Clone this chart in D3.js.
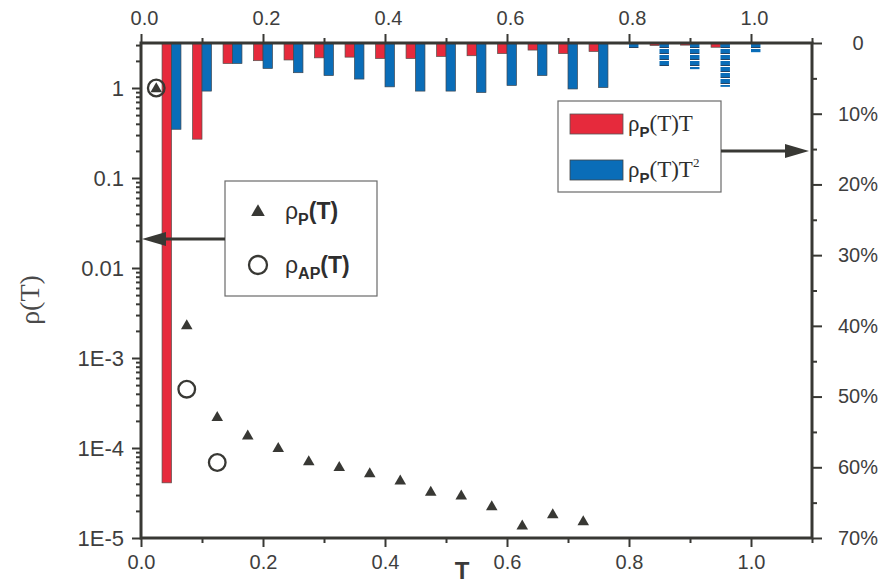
<!DOCTYPE html>
<html>
<head>
<meta charset="utf-8">
<script src="https://cdn.jsdelivr.net/npm/d3@7"></script>
<style>
  html, body { margin: 0; padding: 0; background: #fff; }
  svg { display: block; }
  .tick text { font-family: "Liberation Sans", Arial, sans-serif; font-size: 20px; fill: #3e3e3e; }
  .yleft .tick text { font-size: 22px; }
</style>
</head>
<body>
<svg id="chart" width="890" height="584"></svg>
<script>
// Temperature bins (top axis) with the share of rho_P(T)T and rho_P(T)T^2, in percent
const tBins   = [0.05, 0.10, 0.15, 0.20, 0.25, 0.30, 0.35, 0.40, 0.45, 0.50,
                 0.55, 0.60, 0.65, 0.70, 0.75, 0.80, 0.85, 0.90, 0.95, 1.00];
const redPct  = [62.2, 13.6, 2.9, 2.5, 2.4, 2.1, 2.0, 2.2, 2.2, 1.9,
                 1.8, 1.5, 1.0, 1.5, 1.2, 0.1, 0.35, 0.3, 0.6, 0.0];
const bluePct = [12.2, 6.8, 2.9, 3.6, 4.2, 4.6, 5.1, 6.2, 6.8, 6.8,
                 7.0, 6.0, 4.6, 6.5, 6.3, 0.8, 3.3, 3.7, 6.2, 1.3];

// Probability densities (left log axis)
const tP    = [0.025, 0.075, 0.125, 0.175, 0.225, 0.275, 0.325, 0.375,
               0.425, 0.475, 0.525, 0.575, 0.625, 0.675, 0.725];
const rhoP  = [1, 2.33e-3, 2.23e-4, 1.39e-4, 1.01e-4, 7.2e-5, 6.2e-5, 5.3e-5,
               4.4e-5, 3.3e-5, 3.0e-5, 2.27e-5, 1.39e-5, 1.85e-5, 1.55e-5];
const tAP   = [0.025, 0.075, 0.125];
const rhoAP = [1, 4.5e-4, 6.9e-5];

// Tick values
const xMajor = [0, 0.2, 0.4, 0.6, 0.8, 1.0];
const xMinor = [0.1, 0.3, 0.5, 0.7, 0.9, 1.1];
const yMajor = [1e-5, 1e-4, 1e-3, 1e-2, 1e-1, 1];
const yLabels = ["1E-5", "1E-4", "1E-3", "0.01", "0.1", "1"];
const pctMajor = [0, 10, 20, 30, 40, 50, 60, 70];
const pctMinor = [5, 15, 25, 35, 45, 55, 65];

const INK = "#383834";
const RED = "#e62a3c";
const BLUE = "#0a6db8";

const svg = d3.select("#chart");
const L = 141, R = 812, T = 43, B = 538;

const x = d3.scaleLinear().domain([0, 1.1]).range([L, R]);
const y = d3.scaleLog().domain([1e-5, Math.sqrt(10)]).range([B, T]);
const yPct = d3.scaleLinear().domain([0, 70]).range([T, B]);

// Hatch pattern for the high-temperature bins
const defs = svg.append("defs");
const pat = defs.append("pattern").attr("id", "hatch")
  .attr("patternUnits", "userSpaceOnUse").attr("width", 20).attr("height", 6)
  .attr("y", T);
pat.append("rect").attr("width", 20).attr("height", 6).attr("fill", BLUE);
pat.append("rect").attr("y", 4.2).attr("width", 20).attr("height", 0.8).attr("fill", "#2a3a50");
pat.append("rect").attr("y", 5).attr("width", 20).attr("height", 1).attr("fill", "#fff");

// Bars hanging from the top axis
const bw = x(0.0155) - x(0);
const bars = svg.append("g");
bars.selectAll("rect.red").data(tBins).join("rect")
  .attr("class", "red")
  .attr("x", (d) => x(d) - bw)
  .attr("y", T)
  .attr("width", bw)
  .attr("height", (d, i) => yPct(redPct[i]) - T)
  .attr("fill", RED)
  .attr("stroke", "#55504c").attr("stroke-width", 0.7);
bars.selectAll("rect.blue").data(tBins).join("rect")
  .attr("class", "blue")
  .attr("x", (d) => x(d))
  .attr("y", T)
  .attr("width", bw)
  .attr("height", (d, i) => yPct(bluePct[i]) - T)
  .attr("fill", (d) => d >= 0.8 ? "url(#hatch)" : BLUE)
  .attr("stroke", (d) => d >= 0.8 ? "none" : "#3d4650").attr("stroke-width", 0.7);

// Axes
function styleAxis(g) {
  g.select(".domain").remove();
  g.selectAll(".tick line").attr("stroke", INK).attr("stroke-width", 2);
}

svg.append("g").attr("transform", `translate(0,${B})`)
  .call(d3.axisBottom(x).tickValues(xMajor).tickSize(9).tickPadding(8).tickFormat(d3.format(".1f")))
  .call(styleAxis);
svg.append("g").attr("transform", `translate(0,${B})`)
  .call(d3.axisBottom(x).tickValues(xMinor).tickSize(5).tickFormat(""))
  .call(styleAxis);
const topAx = svg.append("g").attr("transform", `translate(0,${T})`)
  .call(d3.axisTop(x).tickValues(xMajor).tickSize(9).tickPadding(9).tickFormat(d3.format(".1f")))
  .call(styleAxis);
topAx.selectAll(".tick text").attr("dx", 3);
svg.append("g").attr("transform", `translate(0,${T})`)
  .call(d3.axisTop(x).tickValues(xMinor).tickSize(5).tickFormat(""))
  .call(styleAxis);

svg.append("g").attr("class", "yleft").attr("transform", `translate(${L},0)`)
  .call(d3.axisLeft(y).tickValues(yMajor).tickSize(9).tickPadding(8)
    .tickFormat((d, i) => yLabels[i]))
  .call(styleAxis);
const yMinorVals = [];
for (let e = -5; e <= 0; e++) {
  for (let m = 2; m <= 9; m++) {
    const v = m * Math.pow(10, e);
    if (v <= Math.sqrt(10)) yMinorVals.push(v);
  }
}
svg.append("g").attr("transform", `translate(${L},0)`)
  .call(d3.axisLeft(y).tickValues(yMinorVals).tickSize(5).tickFormat(""))
  .call(styleAxis);

const rightAx = svg.append("g").attr("transform", `translate(${R},0)`)
  .call(d3.axisRight(yPct).tickValues(pctMajor).tickSize(10).tickPadding(0)
    .tickFormat((d) => d === 0 ? "0" : d + "%"))
  .call(styleAxis);
rightAx.selectAll(".tick text").attr("text-anchor", "middle").attr("x", 46);
svg.append("g").attr("transform", `translate(${R},0)`)
  .call(d3.axisRight(yPct).tickValues(pctMinor).tickSize(5).tickFormat(""))
  .call(styleAxis);

// Frame
svg.append("rect").attr("x", L).attr("y", T).attr("width", R - L).attr("height", B - T)
  .attr("fill", "none").attr("stroke", INK).attr("stroke-width", 3);

// Markers
const tri = d3.symbol().type(d3.symbolTriangle).size(58);
svg.append("g").selectAll("path").data(tP).join("path")
  .attr("d", tri)
  .attr("transform", (d, i) => `translate(${x(d)},${y(rhoP[i]) + 1})`)
  .attr("fill", INK);
svg.append("g").selectAll("circle").data(tAP).join("circle")
  .attr("cx", (d) => x(d))
  .attr("cy", (d, i) => y(rhoAP[i]))
  .attr("r", 8.3)
  .attr("fill", "none").attr("stroke", INK).attr("stroke-width", 2.3);

// Axis titles
svg.append("text")
  .attr("transform", "translate(39,300) rotate(-90)")
  .attr("text-anchor", "middle")
  .attr("font-family", "Liberation Serif, Times New Roman, serif")
  .attr("font-size", 28).attr("fill", "#4a4a4a")
  .text("ρ(T)");
svg.append("text")
  .attr("x", 462).attr("y", 579)
  .attr("text-anchor", "middle")
  .attr("font-family", "Liberation Sans, Arial, sans-serif")
  .attr("font-weight", "bold").attr("font-size", 24).attr("fill", "#3a3a3a")
  .text("T");

// Arrow helper
function arrow(x1, x2, yy) {
  const dir = Math.sign(x2 - x1);
  const head = 24, half = 7;
  svg.append("line").attr("x1", x1).attr("x2", x2 - dir * head + dir * 2)
    .attr("y1", yy).attr("y2", yy).attr("stroke", INK).attr("stroke-width", 3);
  svg.append("path")
    .attr("d", `M${x2},${yy} L${x2 - dir * head},${yy - half} L${x2 - dir * head},${yy + half} Z`)
    .attr("fill", INK);
}

// Legend for the densities
const lg1 = svg.append("g");
lg1.append("rect").attr("x", 225).attr("y", 181).attr("width", 152).attr("height", 115)
  .attr("fill", "#fff").attr("stroke", "#6a6a6a").attr("stroke-width", 1.2);
arrow(225, 142, 239);
lg1.append("path").attr("d", d3.symbol().type(d3.symbolTriangle).size(80))
  .attr("transform", "translate(258,212)").attr("fill", INK);
lg1.append("circle").attr("cx", 258).attr("cy", 265).attr("r", 9)
  .attr("fill", "none").attr("stroke", INK).attr("stroke-width", 2.3);
function sansLabel(g, xx, yy, sub) {
  const t = g.append("text").attr("x", xx).attr("y", yy)
    .attr("font-family", "Liberation Sans, Arial, sans-serif")
    .attr("font-size", 23).attr("fill", "#2e2e2e");
  t.append("tspan").text("ρ");
  t.append("tspan").attr("font-size", 16).attr("font-weight", "bold").attr("dy", 6).text(sub);
  t.append("tspan").attr("font-weight", "bold").attr("dy", -6).text("(T)");
}
sansLabel(lg1, 285, 219, "P");
sansLabel(lg1, 285, 273, "AP");

// Legend for the bar series
const lg2 = svg.append("g");
lg2.append("rect").attr("x", 558).attr("y", 101).attr("width", 163).attr("height", 91)
  .attr("fill", "#fff").attr("stroke", "#6a6a6a").attr("stroke-width", 1.2);
arrow(721, 809, 151);
lg2.append("rect").attr("x", 570).attr("y", 114).attr("width", 53).attr("height", 20)
  .attr("fill", RED).attr("stroke", "#555").attr("stroke-width", 0.8);
lg2.append("rect").attr("x", 570).attr("y", 160).attr("width", 53).attr("height", 20)
  .attr("fill", BLUE).attr("stroke", "#444").attr("stroke-width", 0.8);
function serifLabel(g, xx, yy, sup) {
  const t = g.append("text").attr("x", xx).attr("y", yy)
    .attr("font-family", "Liberation Serif, Times New Roman, serif")
    .attr("font-size", 23).attr("fill", "#2e2e2e");
  t.append("tspan").text("ρ");
  t.append("tspan").attr("font-family", "Liberation Sans, Arial, sans-serif")
    .attr("font-size", 15).attr("font-weight", "bold").attr("dy", 6).text("P");
  t.append("tspan").attr("dy", -6).text("(T)T");
  if (sup) t.append("tspan").attr("font-size", 13).attr("dy", -10).text(sup);
}
serifLabel(lg2, 628, 131, null);
serifLabel(lg2, 628, 177, "2");
</script>
</body>
</html>
